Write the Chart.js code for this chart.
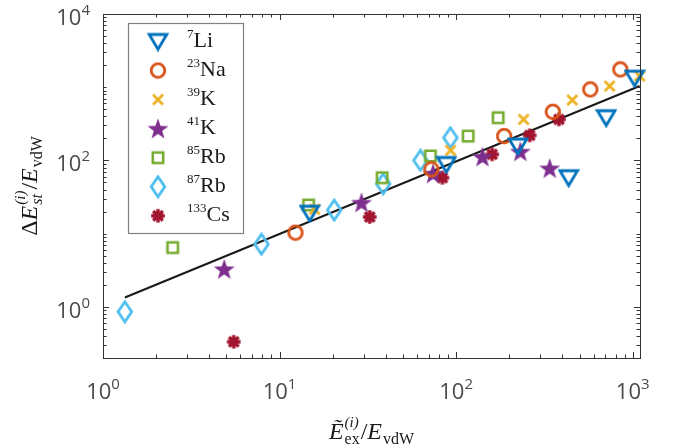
<!DOCTYPE html>
<html>
<head>
<meta charset="utf-8">
<script src="https://cdn.jsdelivr.net/npm/chart.js@4.4.1/dist/chart.umd.min.js"></script>
<style>
  html, body { margin: 0; padding: 0; background: #fff; }
  #wrap { width: 690px; height: 448px; }
</style>
</head>
<body>
<div id="wrap"><canvas id="chart"></canvas></div>
<script>
// values
const liX = [14.8, 88, 224, 434, 708, 1025];
const liY = [19, 88, 157, 58, 383, 1330];
const naX = [12.3, 72.4, 187, 353, 575, 851];
const naY = [10.3, 75.6, 215, 462, 933, 1750];
const k39X = [15.8, 93, 241, 455, 740, 1095];
const k39Y = [21.5, 137, 363, 667, 1035, 1420];
const k41X = [4.86, 29.1, 74, 141, 231, 339];
const k41Y = [3.27, 26.5, 66, 112, 132, 78];
const rb85X = [2.48, 14.6, 38.1, 71.5, 117, 173];
const rb85Y = [6.44, 24.6, 58, 115, 215, 383];
const rb87X = [1.33, 7.9, 20.4, 38.6, 62.8, 92.8];
const rb87Y = [0.855, 7.17, 21, 48, 100, 204];
const csX = [5.5, 32.4, 83.6, 160, 261, 382];
const csY = [0.333, 16.9, 58, 121, 220, 363];
const fitX = [1.33, 1095];
const fitY = [1.34, 1040];

const isotopeMass = ['7', '23', '39', '41', '85', '87', '133'];
const isotopeSymbol = ['Li', 'Na', 'K', 'K', 'Rb', 'Rb', 'Cs'];

const xTickValues = [1, 10, 100, 1000];
const xTickExp = ['0', '1', '2', '3'];
const yTickValues = [1, 100, 10000];
const yTickExp = ['0', '2', '4'];

const colors = ['#0072BD', '#D95319', '#EDB120', '#7E2F8E', '#77AC30', '#4DBEEE', '#A2142F'];
const markerKinds = ['triDown', 'circle', 'x', 'star', 'square', 'diamond', 'asterisk'];

const serif = '"Liberation Serif", "DejaVu Serif", serif';
const sans = '"Open Sans", "DejaVu Sans", sans-serif';

function makeMarker(kind, color) {
  const c = document.createElement('canvas');
  const sizes = { triDown: [22, 20], circle: [18, 18], x: [16, 16], star: [24, 24],
                  square: [16, 16], diamond: [18, 24], asterisk: [18, 18] };
  c.width = sizes[kind][0];
  c.height = sizes[kind][1];
  const g = c.getContext('2d');
  g.strokeStyle = color;
  g.fillStyle = color;
  g.lineWidth = 2.8;
  g.lineJoin = 'miter';
  g.beginPath();
  if (kind === 'triDown') {
    g.moveTo(2.2, 3); g.lineTo(19.8, 3); g.lineTo(11, 17.8); g.closePath(); g.stroke();
  } else if (kind === 'circle') {
    g.arc(9, 9, 6.8, 0, Math.PI * 2); g.stroke();
  } else if (kind === 'x') {
    g.moveTo(3, 3); g.lineTo(13, 13); g.moveTo(13, 3); g.lineTo(3, 13); g.stroke();
  } else if (kind === 'star') {
    for (let i = 0; i < 10; i++) {
      const r = i % 2 === 0 ? 11 : 4.4;
      const ang = -Math.PI / 2 + i * Math.PI / 5;
      const px = 12 + r * Math.cos(ang), py = 12.8 + r * Math.sin(ang);
      if (i === 0) g.moveTo(px, py); else g.lineTo(px, py);
    }
    g.closePath(); g.fill();
  } else if (kind === 'square') {
    g.lineWidth = 2.6;
    g.rect(2.8, 2.8, 10.4, 10.4); g.stroke();
  } else if (kind === 'diamond') {
    g.moveTo(9, 2); g.lineTo(15.8, 12); g.lineTo(9, 22); g.lineTo(2.2, 12); g.closePath(); g.stroke();
  } else if (kind === 'asterisk') {
    g.lineWidth = 3.4;
    for (let i = 0; i < 4; i++) {
      const ang = i * Math.PI / 4;
      g.moveTo(9 - 6.8 * Math.cos(ang), 9 - 6.8 * Math.sin(ang));
      g.lineTo(9 + 6.8 * Math.cos(ang), 9 + 6.8 * Math.sin(ang));
    }
    g.stroke();
    g.beginPath(); g.arc(9, 9, 3.4, 0, Math.PI * 2); g.fill();
  }
  return c;
}

const markers = markerKinds.map((k, i) => makeMarker(k, colors[i]));

function zip(xs, ys) {
  return xs.map((x, i) => ({ x: x, y: ys[i] }));
}

const seriesX = [liX, naX, k39X, k41X, rb85X, rb87X, csX];
const seriesY = [liY, naY, k39Y, k41Y, rb85Y, rb87Y, csY];

const datasets = seriesX.map((xs, i) => ({
  type: 'scatter',
  label: isotopeMass[i] + isotopeSymbol[i],
  data: zip(xs, seriesY[i]),
  pointStyle: markers[i],
  pointRadius: 6,
  clip: false,
  order: 1
}));
datasets.push({
  type: 'line',
  label: 'fit',
  data: zip(fitX, fitY),
  borderColor: '#1a1a1a',
  borderWidth: 2,
  pointRadius: 0,
  fill: false,
  clip: false,
  order: 2
});

// rich text helpers: parts are {t, font, dy} or {sub, sup, subFont, supFont, subDy, supDy}
function partWidth(ctx, p) {
  if (p.sub !== undefined || p.sup !== undefined) {
    ctx.font = p.subFont;
    const a = p.sub ? ctx.measureText(p.sub).width : 0;
    ctx.font = p.supFont;
    const b = p.sup ? ctx.measureText(p.sup).width : 0;
    return Math.max(a, b) + (p.pad || 0);
  }
  ctx.font = p.font;
  return ctx.measureText(p.t).width + (p.pad || 0);
}
function richWidth(ctx, parts) {
  return parts.reduce((w, p) => w + partWidth(ctx, p), 0);
}
function drawRich(ctx, parts, x, y) {
  let cx = x;
  for (const p of parts) {
    if (p.sub !== undefined || p.sup !== undefined) {
      if (p.sub) { ctx.font = p.subFont; ctx.fillText(p.sub, cx, y + p.subDy); }
      if (p.sup) { ctx.font = p.supFont; ctx.fillText(p.sup, cx + (p.supDx || 0), y + p.supDy); }
    } else {
      ctx.font = p.font;
      ctx.fillText(p.t, cx, y + (p.dy || 0));
    }
    cx += partWidth(ctx, p);
  }
}

function tickLabel(exp) {
  return [
    { t: '10', font: '22px ' + sans },
    { t: exp, font: '15px ' + sans, dy: -10 }
  ];
}

const matlabAxes = {
  id: 'matlabAxes',
  afterDraw(chart) {
    const { ctx, chartArea: a } = chart;
    const xs = chart.scales.x, ys = chart.scales.y;
    ctx.save();
    ctx.textAlign = 'left';
    ctx.textBaseline = 'alphabetic';

    // box
    ctx.strokeStyle = '#333';
    ctx.lineWidth = 1;
    ctx.strokeRect(a.left + 0.5, a.top + 0.5, a.right - a.left, a.bottom - a.top);

    // ticks (inward, mirrored)
    ctx.beginPath();
    for (let k = 0; k <= 3; k++) {
      for (let m = 1; m <= 9; m++) {
        const v = m * Math.pow(10, k);
        if (v < xs.min || v > xs.max) continue;
        const len = xTickValues.includes(v) ? 6 : 3.5;
        const px = Math.round(xs.getPixelForValue(v)) + 0.5;
        ctx.moveTo(px, a.bottom); ctx.lineTo(px, a.bottom - len);
        ctx.moveTo(px, a.top); ctx.lineTo(px, a.top + len);
      }
    }
    for (let k = -1; k <= 4; k++) {
      for (let m = 1; m <= 9; m++) {
        const v = m * Math.pow(10, k);
        if (v < ys.min || v > ys.max) continue;
        const len = yTickValues.includes(v) ? 6 : 3.5;
        const py = Math.round(ys.getPixelForValue(v)) + 0.5;
        ctx.moveTo(a.left, py); ctx.lineTo(a.left + len, py);
        ctx.moveTo(a.right, py); ctx.lineTo(a.right - len, py);
      }
    }
    ctx.stroke();

    // tick labels
    ctx.fillStyle = '#4a4a4a';
    xTickValues.forEach((v, i) => {
      const parts = tickLabel(xTickExp[i]);
      const w = richWidth(ctx, parts);
      drawRich(ctx, parts, xs.getPixelForValue(v) - w / 2, a.bottom + 41);
    });
    yTickValues.forEach((v, i) => {
      const parts = tickLabel(yTickExp[i]);
      const w = richWidth(ctx, parts);
      drawRich(ctx, parts, a.left - 13 - w, ys.getPixelForValue(v) + 11);
    });

    // axis titles
    ctx.fillStyle = '#1a1a1a';
    const it = 'italic 24px ' + serif, up = '24px ' + serif;
    const xTitle = [
      { t: '\u1EBC', font: it, pad: 1 },
      { sub: 'ex', sup: '(i)', subFont: '16px ' + serif, supFont: 'italic 15px ' + serif, subDy: 5, supDy: -12, pad: 1 },
      { t: '/', font: up },
      { t: 'E', font: it, pad: 1 },
      { t: 'vdW', font: '16px ' + serif, dy: 5 }
    ];
    const xw = richWidth(ctx, xTitle);
    drawRich(ctx, xTitle, (a.left + a.right) / 2 - xw / 2, 439);

    const yTitle = [
      { t: '\u0394', font: up },
      { t: 'E', font: it, pad: 1 },
      { sub: 'st', sup: '(i)', subFont: 'italic 16px ' + serif, supFont: 'italic 15px ' + serif, subDy: 5, supDy: -12, pad: 1 },
      { t: '/', font: up },
      { t: 'E', font: it, pad: 1 },
      { t: 'vdW', font: '16px ' + serif, dy: 5 }
    ];
    const yw = richWidth(ctx, yTitle);
    ctx.save();
    ctx.translate(37, (a.top + a.bottom) / 2);
    ctx.rotate(-Math.PI / 2);
    drawRich(ctx, yTitle, -yw / 2, 0);
    ctx.restore();

    // legend
    const lx = a.left + 25, ly = a.top + 9, lw = 115, lh = 210;
    ctx.fillStyle = '#fff';
    ctx.fillRect(lx, ly, lw, lh);
    ctx.strokeStyle = '#808080';
    ctx.lineWidth = 1.2;
    ctx.strokeRect(lx + 0.5, ly + 0.5, lw, lh);
    ctx.fillStyle = '#1a1a1a';
    isotopeSymbol.forEach((sym, i) => {
      const cy = ly + 18.5 + i * 29.05;
      const mk = markers[i];
      ctx.drawImage(mk, lx + 30 - mk.width / 2, cy - mk.height / 2);
      drawRich(ctx, [
        { t: isotopeMass[i], font: '13px ' + serif, dy: -9.5 },
        { t: sym, font: '22px ' + serif }
      ], lx + 59, cy + 5.5);
    });
    ctx.restore();
  }
};

new Chart(document.getElementById('chart'), {
  type: 'scatter',
  data: { datasets: datasets },
  options: {
    responsive: true,
    maintainAspectRatio: false,
    animation: false,
    layout: { padding: { left: 103, right: 50, top: 14, bottom: 90 } },
    scales: {
      x: { type: 'logarithmic', min: 1, max: 1100, display: false },
      y: { type: 'logarithmic', min: 0.2, max: 10000, display: false }
    },
    plugins: {
      legend: { display: false },
      tooltip: { enabled: false }
    }
  },
  plugins: [matlabAxes]
});
</script>
</body>
</html>
